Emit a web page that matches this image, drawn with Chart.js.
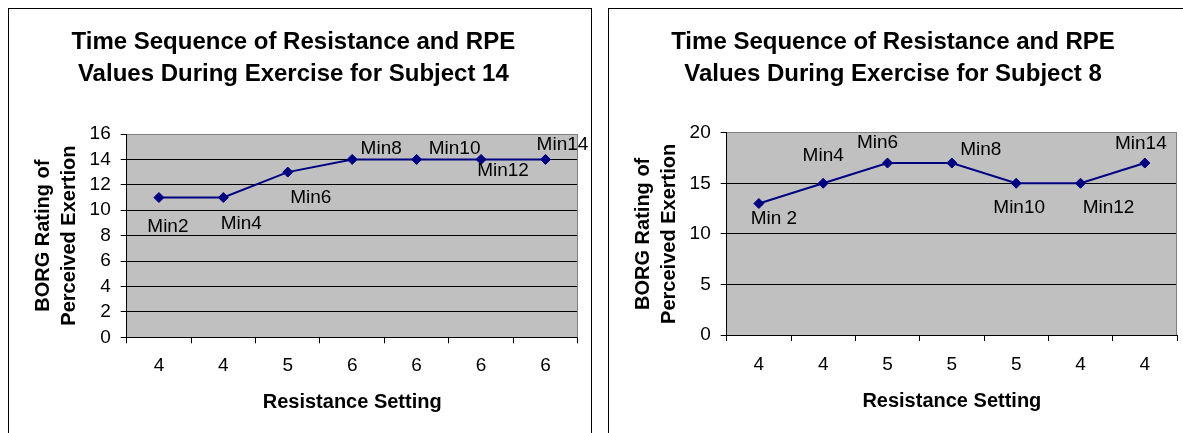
<!DOCTYPE html>
<html>
<head>
<meta charset="utf-8">
<script src="https://cdn.jsdelivr.net/npm/chart.js@4/dist/chart.umd.min.js"></script>
<style>
  html, body { margin: 0; padding: 0; background: #fff; overflow: hidden; }
  body { width: 1183px; height: 433px; position: relative; }
  .box { position: absolute; top: 8px; height: 440px; border: 1px solid #000; background: #fff; }
  #boxA { left: 8px; width: 582px; }
  #boxB { left: 608px; width: 600px; }
  canvas { display: block; }
</style>
</head>
<body>
<div class="box" id="boxA"><canvas id="chartA" width="582" height="424"></canvas></div>
<div class="box" id="boxB"><canvas id="chartB" width="574" height="424"></canvas></div>
<script>
// Two Excel-style RPE line charts, subject 14 (left) and subject 8 (right).

const resistanceA = ['4', '4', '5', '6', '6', '6', '6'];
const rpeA = [11, 11, 13, 14, 14, 14, 14];
const minutesA = ['Min2', 'Min4', 'Min6', 'Min8', 'Min10', 'Min12', 'Min14'];

const resistanceB = ['4', '4', '5', '5', '5', '4', '4'];
const rpeB = [13, 15, 17, 17, 15, 15, 17];
const minutesB = ['Min 2', 'Min4', 'Min6', 'Min8', 'Min10', 'Min12', 'Min14'];

const FONT = '"Liberation Sans", Arial, sans-serif';
Chart.defaults.font.family = FONT;
Chart.defaults.color = '#000';

// grey plot area + grey right border, like the old Excel default
const plotArea = {
  id: 'plot-area',
  beforeDraw(chart) {
    const { ctx, chartArea: a } = chart;
    ctx.save();
    ctx.fillStyle = '#c0c0c0';
    ctx.fillRect(a.left, a.top, a.right - a.left, a.bottom - a.top);
    ctx.restore();
  },
  beforeDatasetsDraw(chart) {
    const { ctx, chartArea: a } = chart;
    const x = Math.round(a.right) - 0.5;
    ctx.save();
    ctx.strokeStyle = '#808080';
    ctx.lineWidth = 1;
    ctx.beginPath();
    ctx.moveTo(x, a.top);
    ctx.lineTo(x, a.bottom);
    ctx.stroke();
    ctx.restore();
  },
};

// "MinN" data labels, each nudged off its point like in the source sheet
const pointLabels = {
  id: 'point-labels',
  afterDatasetsDraw(chart, _args, opts) {
    const meta = chart.getDatasetMeta(0);
    const ctx = chart.ctx;
    ctx.save();
    ctx.font = `19px ${FONT}`;
    ctx.fillStyle = '#000';
    ctx.textAlign = 'center';
    ctx.textBaseline = 'middle';
    meta.data.forEach((pt, i) => {
      const [dx, dy] = opts.offsets[i];
      ctx.fillText(opts.labels[i], pt.x + dx, pt.y + dy);
    });
    ctx.restore();
  },
};

function makeChart(id, subject, cats, values, labels, offsets, yMax, yStep, g) {
  return new Chart(document.getElementById(id), {
    type: 'line',
    data: {
      labels: cats,
      datasets: [{
        data: values,
        borderColor: '#000080', backgroundColor: '#000080',
        borderWidth: 2, tension: 0,
        pointStyle: 'rectRot', pointRadius: 5, pointBorderWidth: 1,
        pointBackgroundColor: '#000080', pointBorderColor: '#000080',
      }],
    },
    options: {
      responsive: false, animation: false, events: [],
      layout: { padding: { left: 0, right: g.padRight, top: 0, bottom: 0 } },
      scales: {
        x: {
          offset: true,
          grid: { offset: true, drawOnChartArea: false, drawTicks: true, tickLength: 6, color: '#000' },
          border: { color: '#000', width: 1 },
          ticks: { font: { size: 19 }, padding: g.xTickPad, maxRotation: 0, autoSkip: false },
          title: { display: true, text: 'Resistance Setting', font: { size: 20, weight: 'bold', lineHeight: 1.2 },
                   padding: { top: 0, bottom: g.xTitlePad } },
          afterFit: s => { s.height = g.xHeight; },
        },
        y: {
          min: 0, max: yMax,
          grid: {
            color: c => (c.tick && c.tick.value === yMax ? '#808080' : '#000'),
            tickColor: '#000', tickLength: 6, lineWidth: 1,
          },
          border: { color: '#000', width: 1 },
          ticks: { stepSize: yStep, font: { size: 19, lineHeight: 1 }, padding: 10, autoSkip: false },
          title: { display: true, text: ['BORG Rating of', 'Perceived Exertion'],
                   font: { size: 20, weight: 'bold', lineHeight: 1.3 }, padding: { top: 21.5, bottom: 0 } },
          afterFit: s => { s.width = 117.7; },
        },
      },
      plugins: {
        legend: { display: false },
        tooltip: { enabled: false },
        title: {
          display: true,
          text: ['Time Sequence of Resistance and RPE', `Values During Exercise for Subject ${subject}`],
          font: { size: 24, weight: 'bold', lineHeight: 32 / 24 },
          color: '#000',
          padding: { top: 17, bottom: g.titleBottom },
        },
        'point-labels': { labels, offsets },
      },
    },
    plugins: [plotArea, pointLabels],
  });
}

makeChart('chartA', 14, resistanceA, rpeA, minutesA,
  [[9, 29], [18, 26], [23, 26], [29, -11], [38, -11], [22, 11], [17, -15]],
  16, 2,
  { padRight: 13.3, titleBottom: 44, xHeight: 95.7, xTickPad: 11.4, xTitlePad: 19 });

makeChart('chartB', 8, resistanceB, rpeB, minutesB,
  [[15, 15], [0, -28], [-10, -20], [29, -13], [3, 24], [28, 24], [-4, -19]],
  20, 5,
  { padRight: 6, titleBottom: 42.7, xHeight: 98, xTickPad: 12.6, xTitlePad: 20 });
</script>
</body>
</html>
